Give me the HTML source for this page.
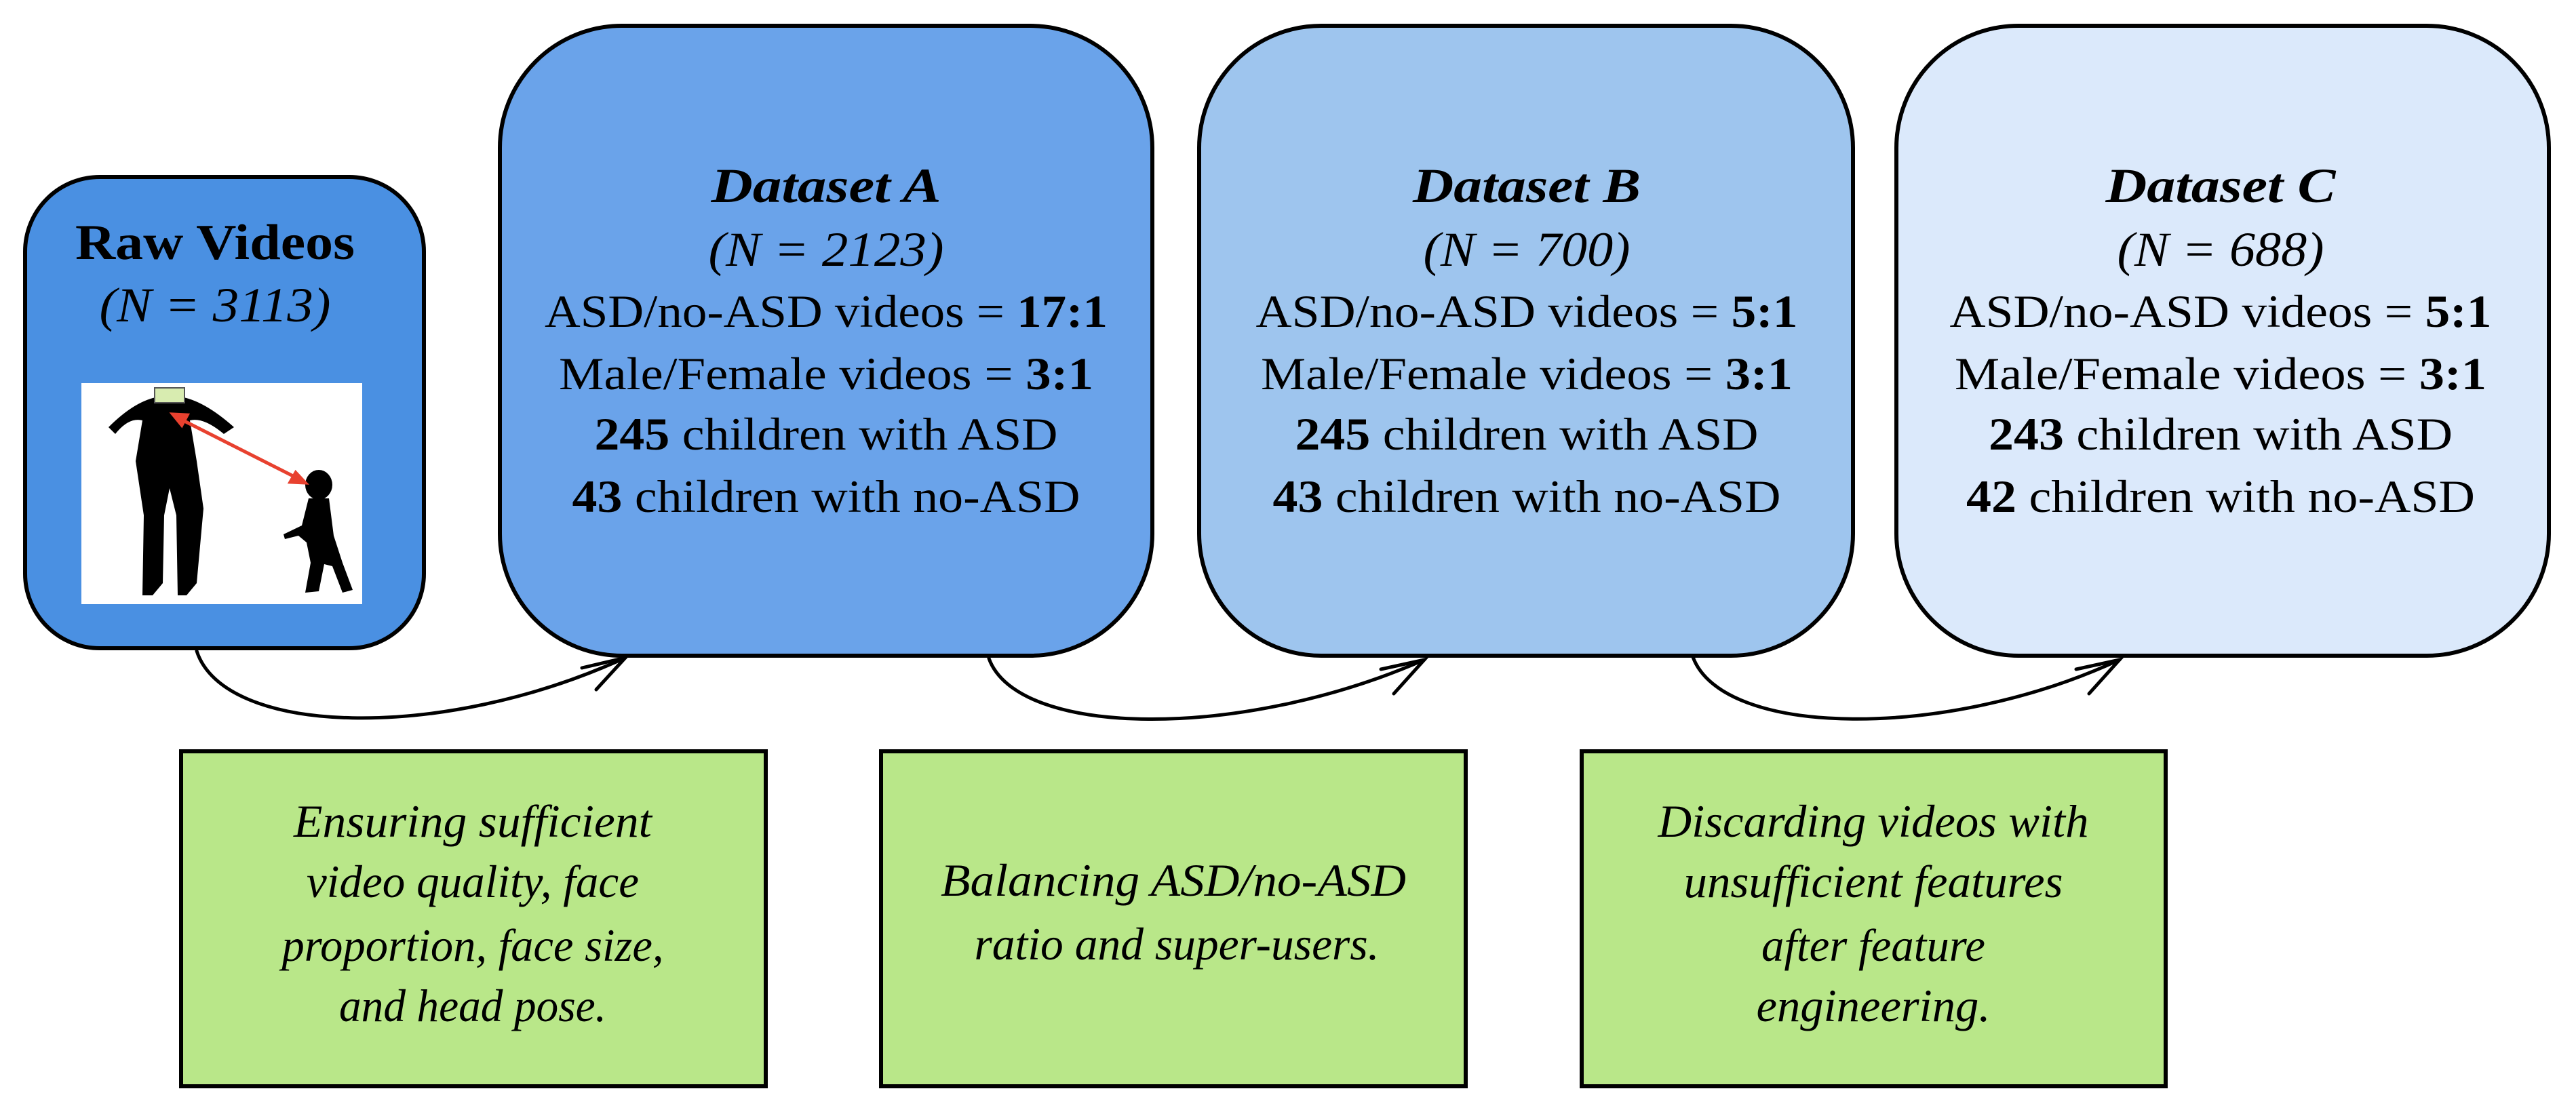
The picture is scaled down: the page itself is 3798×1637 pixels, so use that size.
<!DOCTYPE html>
<html><head><meta charset="utf-8"><style>html,body{margin:0;padding:0;background:#fff}svg{display:block}</style></head>
<body>
<svg width="3798" height="1637" viewBox="0 0 3798 1637" xmlns="http://www.w3.org/2000/svg" font-family="'Liberation Serif', serif">
<!-- boxes -->
<rect x="37" y="261" width="588" height="695" rx="110" ry="110" fill="#4a90e2" stroke="#000" stroke-width="6"/>
<rect x="737" y="38" width="962" height="929" rx="180" ry="180" fill="#6aa3ea" stroke="#000" stroke-width="6"/>
<rect x="1768" y="38" width="964" height="929" rx="180" ry="180" fill="#9ec5ee" stroke="#000" stroke-width="6"/>
<rect x="2796" y="38" width="962" height="929" rx="180" ry="180" fill="#dbe9fb" stroke="#000" stroke-width="6"/>
<rect x="267" y="1108" width="862" height="494" fill="#b9e789" stroke="#000" stroke-width="6"/>
<rect x="1299" y="1108" width="862" height="494" fill="#b9e789" stroke="#000" stroke-width="6"/>
<rect x="2332" y="1108" width="861" height="494" fill="#b9e789" stroke="#000" stroke-width="6"/>

<!-- image -->
<rect x="120" y="565" width="414" height="326" fill="#fff"/>
<g fill="#000">
 <ellipse cx="250" cy="610" rx="28" ry="30"/>
 <path d="M160,630 Q200,590 235,585 L265,585 Q300,590 345,630 L330,640 Q300,615 280,620 L290,680 L300,750 L290,860 L275,878 L262,878 L260,760 L250,720 L242,760 L240,860 L225,878 L210,878 L212,760 L200,680 L210,620 Q190,615 170,640 Z"/>
 <ellipse cx="470" cy="715" rx="20" ry="22"/>
 <path d="M455,735 L485,735 L492,790 L505,830 L520,870 L505,874 L490,835 L478,832 L470,872 L450,874 L458,830 L452,800 L440,790 L420,795 L418,788 L445,775 Z"/>
 <rect x="228" y="572" width="44" height="22" fill="#d8ecb0" stroke="#555" stroke-width="2"/>
</g>
<g stroke="#e8412f" stroke-width="5" fill="#e8412f">
 <line x1="262" y1="616" x2="440" y2="706"/>
 <path d="M255,611 L276,612 L268,627 Z"/>
 <path d="M450,712 L428,711 L436,697 Z"/>
</g>

<!-- arrows -->
<g fill="none" stroke="#000" stroke-width="5" stroke-linecap="round">
 <path d="M290,960 C330,1085 650,1095 922,970"/>
 <path d="M858,985 L922,970 L879,1017"/>
 <path d="M1458,971 C1500,1088 1830,1092 2100,973"/>
 <path d="M2036,987 L2100,973 L2055,1023"/>
 <path d="M2496,969 C2540,1088 2870,1092 3125,973"/>
 <path d="M3061,987 L3125,973 L3080,1023"/>
</g>

<!-- text -->
<g text-anchor="middle" fill="#000" font-size="68" lengthAdjust="spacingAndGlyphs">
 <text x="317" y="382" font-weight="bold" textLength="412" lengthAdjust="spacingAndGlyphs" font-size="74">Raw Videos</text>
 <text x="317" y="474" font-style="italic" textLength="341" lengthAdjust="spacingAndGlyphs" font-size="72">(N = 3113)</text>

 <text x="1218" y="298" font-weight="bold" font-style="italic" textLength="339" lengthAdjust="spacingAndGlyphs" font-size="72">Dataset A</text>
 <text x="1218" y="392" font-style="italic" textLength="347" lengthAdjust="spacingAndGlyphs" font-size="72">(N = 2123)</text>
 <text x="1218" y="482" textLength="830" lengthAdjust="spacingAndGlyphs">ASD/no-ASD videos = <tspan font-weight="bold">17:1</tspan></text>
 <text x="1218" y="574" textLength="788" lengthAdjust="spacingAndGlyphs">Male/Female videos = <tspan font-weight="bold">3:1</tspan></text>
 <text x="1218" y="663" textLength="683" lengthAdjust="spacingAndGlyphs"><tspan font-weight="bold">245</tspan> children with ASD</text>
 <text x="1218" y="755" textLength="749" lengthAdjust="spacingAndGlyphs"><tspan font-weight="bold">43</tspan> children with no-ASD</text>

 <text x="2251" y="298" font-weight="bold" font-style="italic" textLength="336" lengthAdjust="spacingAndGlyphs" font-size="72">Dataset B</text>
 <text x="2251" y="392" font-style="italic" textLength="305" lengthAdjust="spacingAndGlyphs" font-size="72">(N = 700)</text>
 <text x="2251" y="482" textLength="799" lengthAdjust="spacingAndGlyphs">ASD/no-ASD videos = <tspan font-weight="bold">5:1</tspan></text>
 <text x="2251" y="574" textLength="784" lengthAdjust="spacingAndGlyphs">Male/Female videos = <tspan font-weight="bold">3:1</tspan></text>
 <text x="2251" y="663" textLength="683" lengthAdjust="spacingAndGlyphs"><tspan font-weight="bold">245</tspan> children with ASD</text>
 <text x="2251" y="755" textLength="749" lengthAdjust="spacingAndGlyphs"><tspan font-weight="bold">43</tspan> children with no-ASD</text>

 <text x="3274" y="298" font-weight="bold" font-style="italic" textLength="339" lengthAdjust="spacingAndGlyphs" font-size="72">Dataset C</text>
 <text x="3274" y="392" font-style="italic" textLength="305" lengthAdjust="spacingAndGlyphs" font-size="72">(N = 688)</text>
 <text x="3274" y="482" textLength="799" lengthAdjust="spacingAndGlyphs">ASD/no-ASD videos = <tspan font-weight="bold">5:1</tspan></text>
 <text x="3274" y="574" textLength="784" lengthAdjust="spacingAndGlyphs">Male/Female videos = <tspan font-weight="bold">3:1</tspan></text>
 <text x="3274" y="663" textLength="684" lengthAdjust="spacingAndGlyphs"><tspan font-weight="bold">243</tspan> children with ASD</text>
 <text x="3274" y="755" textLength="750" lengthAdjust="spacingAndGlyphs"><tspan font-weight="bold">42</tspan> children with no-ASD</text>
</g>
<g text-anchor="middle" fill="#000" font-size="68" font-style="italic">
 <text x="697" y="1234" textLength="528" lengthAdjust="spacingAndGlyphs">Ensuring sufficient</text>
 <text x="697" y="1323" textLength="490" lengthAdjust="spacingAndGlyphs">video quality, face</text>
 <text x="697" y="1417" textLength="563" lengthAdjust="spacingAndGlyphs">proportion, face size,</text>
 <text x="697" y="1506" textLength="394" lengthAdjust="spacingAndGlyphs">and head pose.</text>

 <text x="1730" y="1321" textLength="686" lengthAdjust="spacingAndGlyphs">Balancing ASD/no-ASD</text>
 <text x="1735" y="1415" textLength="597" lengthAdjust="spacingAndGlyphs">ratio and super-users.</text>

 <text x="2762" y="1234" textLength="635" lengthAdjust="spacingAndGlyphs">Discarding videos with</text>
 <text x="2762" y="1323" textLength="559" lengthAdjust="spacingAndGlyphs">unsufficient features</text>
 <text x="2762" y="1417" textLength="330" lengthAdjust="spacingAndGlyphs">after feature</text>
 <text x="2762" y="1506" textLength="345" lengthAdjust="spacingAndGlyphs">engineering.</text>
</g>
</svg>
</body></html>
